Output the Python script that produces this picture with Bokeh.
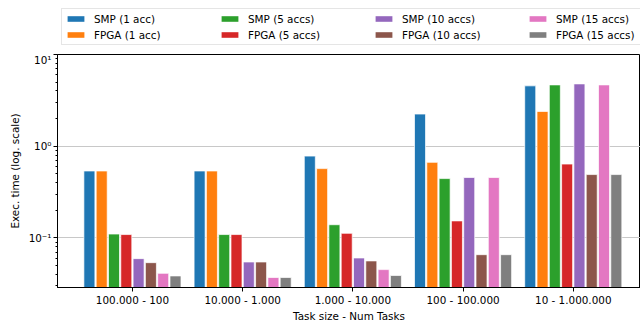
from bokeh.plotting import figure
from bokeh.models import Range1d, FixedTicker, Legend, LegendItem
from bokeh.layouts import column
from bokeh.embed import file_html
from bokeh.resources import INLINE

groups = ["100.000 - 100", "10.000 - 1.000", "1.000 - 10.000", "100 - 100.000", "10 - 1.000.000"]
series_names = ["SMP (1 acc)", "FPGA (1 acc)", "SMP (5 accs)", "FPGA (5 accs)",
                "SMP (10 accs)", "FPGA (10 accs)", "SMP (15 accs)", "FPGA (15 accs)"]
smp_1 = [0.536, 0.536, 0.779, 2.24, 4.55]
fpga_1 = [0.536, 0.536, 0.569, 0.666, 2.39]
smp_5 = [0.110, 0.1086, 0.139, 0.443, 4.66]
fpga_5 = [0.1086, 0.1086, 0.112, 0.153, 0.638]
smp_10 = [0.0593, 0.0545, 0.0603, 0.455, 4.78]
fpga_10 = [0.0536, 0.0545, 0.056, 0.0655, 0.490]
smp_15 = [0.041, 0.0369, 0.045, 0.455, 4.66]
fpga_15 = [0.0384, 0.0369, 0.0388, 0.0655, 0.490]
series = [smp_1, fpga_1, smp_5, fpga_5, smp_10, fpga_10, smp_15, fpga_15]
colors = ["#1f77b4", "#ff7f0e", "#2ca02c", "#d62728", "#9467bd", "#8c564b", "#e377c2", "#7f7f7f"]
y_major = [0.1, 1, 10]
y_labels = ["10\u207b\u00b9", "10\u2070", "10\u00b9"]

FONT = "DejaVu Sans"
FS = "10.4px"

# ---- main chart ----
p = figure(width=640, height=271, output_backend="svg", toolbar_location=None,
           y_axis_type="log", x_range=Range1d(-0.68, 4.61), y_range=Range1d(0.02872, 10),
           min_border_left=57, min_border_right=0, min_border_top=1, min_border_bottom=35)
p.background_fill_color = "white"
p.border_fill_color = "white"
p.outline_line_color = "black"
p.outline_line_width = 1

slot = 0.1116
bar_w = 0.1
for i, (vals, col) in enumerate(zip(series, colors)):
    off = (i - 3.5) * slot
    xs = [g + off for g in range(len(groups))]
    p.vbar(x=xs, top=vals, bottom=0.001, width=bar_w, fill_color=col,
           line_color="white", line_width=1, line_alpha=0.7)

xa = p.xaxis[0]
xa.ticker = FixedTicker(ticks=list(range(len(groups))))
xa.major_label_overrides = {i: g for i, g in enumerate(groups)}
xa.major_tick_in = 0
xa.major_tick_out = 4
xa.axis_label = "Task size - Num Tasks"
ya = p.yaxis[0]
minor = []
for dec in [0.01, 0.1, 1]:
    for k in range(2, 10):
        minor.append(round(dec * k, 6))
ya.ticker = FixedTicker(ticks=y_major, minor_ticks=minor)
ya.major_label_overrides = {t: l for t, l in zip(y_major, y_labels)}
ya.major_tick_in = 0
ya.major_tick_out = 4
ya.minor_tick_in = 0
ya.minor_tick_out = 2
ya.axis_label = "Exec. time (log. scale)"

for ax in (xa, ya):
    ax.axis_line_color = "black"
    ax.axis_line_width = 1
    ax.major_tick_line_color = "black"
    ax.major_label_text_font = FONT
    ax.major_label_text_font_size = FS
    ax.major_label_text_color = "black"
    ax.axis_label_text_font = FONT
    ax.axis_label_text_font_size = FS
    ax.axis_label_text_font_style = "normal"
    ax.axis_label_text_color = "black"
    ax.major_label_standoff = 2
xa.minor_tick_line_color = None
ya.minor_tick_line_color = "black"
xa.axis_label_standoff = 1
ya.axis_label_standoff = 5

p.xgrid.grid_line_color = None
p.ygrid.grid_line_color = "#c8c8c8"
p.ygrid.grid_line_width = 1

# ---- legend strip above the chart ----
lf = figure(width=640, height=53, output_backend="svg", toolbar_location=None,
            x_axis_type=None, y_axis_type=None, x_range=Range1d(0, 1), y_range=Range1d(0, 1),
            min_border=0)
lf.outline_line_color = None
lf.xgrid.grid_line_color = None
lf.ygrid.grid_line_color = None
lf.background_fill_color = "white"
lf.border_fill_color = "white"
keys = []
for col in colors:
    # zero-height key glyphs, only used for the legend swatches
    keys.append(lf.vbar(x=[0], top=[0], bottom=[0], width=0.01, fill_color=col,
                        line_color=None))

items = [LegendItem(label=series_names[i], renderers=[keys[i]]) for i in range(len(series_names))]
legend = Legend(items=items, ncols=4, location=(4, 8))
legend.glyph_width = 21
legend.glyph_height = 7
legend.label_standoff = 8
legend.label_width = 122
legend.label_height = 13
legend.spacing = 3
legend.padding = 3
legend.margin = 0
legend.label_text_font = FONT
legend.label_text_font_size = FS
legend.label_text_color = "black"
legend.border_line_color = "#cccccc"
legend.border_line_width = 1
legend.background_fill_color = "white"
legend.background_fill_alpha = 0.8
lf.add_layout(legend, "center")

layout = column(lf, p, spacing=0)
open("out.html", "w").write(file_html(layout, INLINE))
